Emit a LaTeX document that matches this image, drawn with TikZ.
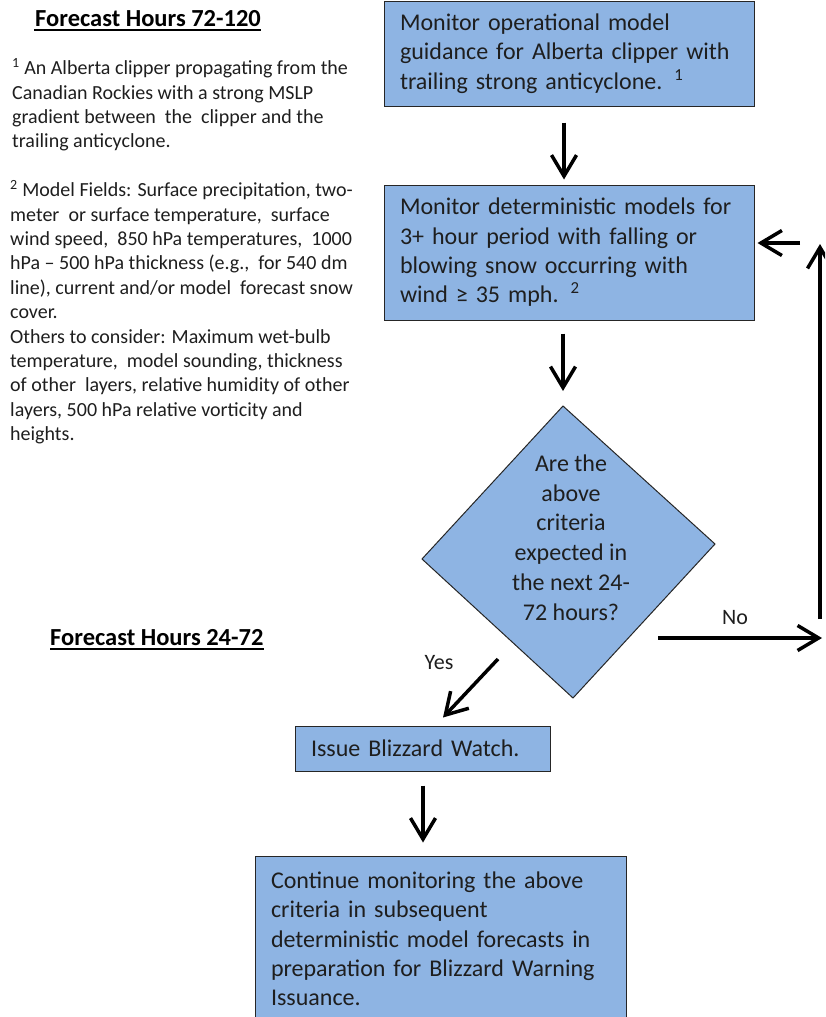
\documentclass[tikz,border=0pt]{standalone}
\usepackage{fontspec}
\setmainfont{Carlito}
\usetikzlibrary{arrows.meta,calc}
\definecolor{boxfill}{RGB}{142,180,227}
\definecolor{txt}{RGB}{30,30,30}
\begin{document}
\begin{tikzpicture}[x=1pt,y=-1pt,
  box/.style={draw=black!85,line width=1pt,fill=boxfill,text=txt,align=left,
    font=\fontsize{24}{29.3}\selectfont,inner ysep=0pt},
  arr/.style={line width=3.5pt,-{Straight Barb[length=21pt,width=25pt]}},
  lbl/.style={text=txt,font=\fontsize{22}{26}\selectfont,inner sep=0pt},
  note/.style={text=txt,align=left,font=\fontsize{20}{24.4}\selectfont,inner sep=0pt,anchor=base west},
  ttl/.style={text=black,font=\bfseries\fontsize{24.5}{29}\selectfont,inner sep=0pt,anchor=base west}]
\useasboundingbox (0,0) rectangle (825,1017);
\clip (0,0) rectangle (825,1017);

% titles
\node[ttl] (t1) at (35,26) {Forecast Hours 72-120};
\draw[line width=1.5pt] ($(t1.base west)+(-1,4)$) -- ($(t1.base east)+(0,4)$);
\node[ttl] (t2) at (50,645) {Forecast Hours 24-72};
\draw[line width=1.5pt] ($(t2.base west)+(0,4)$) -- ($(t2.base east)+(0,4)$);

% notes (base anchor = baseline of last line)
\node[note] (n1) at (12,147.9) {\textsuperscript{1} An Alberta clipper propagating from the\\
Canadian Rockies with a strong MSLP\\
gradient between\ \ the\ \ clipper and the\\
trailing anticyclone.};
\node[note] (n2) at (10,440.7) {\textsuperscript{2} Model Fields: Surface precipitation, two-\\
meter\ \ or surface temperature,\ \ surface\\
wind speed,\ \ 850 hPa temperatures,\ \ 1000\\
hPa – 500 hPa thickness (e.g.,\ \ for 540 dm\\
line), current and/or model\ \ forecast snow\\
cover.\\
Others to consider: Maximum wet-bulb\\
temperature,\ \ model sounding, thickness\\
of other\ \ layers, relative humidity of other\\
layers, 500 hPa relative vorticity and\\
heights.};

% boxes
\node[box,minimum width=370,minimum height=105,text width=338,inner xsep=16] (b1) at (569,53.5)
 {Monitor\ operational model\\guidance for Alberta\ clipper with\\trailing strong anticyclone. \textsuperscript{1}};
\node[box,minimum width=370,minimum height=135,text width=338,inner xsep=16] (b2) at (569,252.5)
 {Monitor\ deterministic models for\\3+ hour period with falling or\\blowing snow occurring\ with\\wind ≥ 35 mph. \textsuperscript{2}};
\node[box,minimum width=255,minimum height=45,text width=223,inner xsep=16] (b3) at (422.5,748.5)
 {Issue Blizzard Watch.};
\node[box,minimum width=371,minimum height=166,text width=339,inner xsep=16] (b4) at (440.5,939)
 {Continue monitoring the above\\criteria in subsequent\\deterministic model forecasts in\\preparation\ for Blizzard Warning\\Issuance.};

% decision diamond
\coordinate (dT) at (563,406);
\coordinate (dR) at (715,544);
\coordinate (dB) at (573,698);
\coordinate (dL) at (422,559);
\filldraw[fill=boxfill,draw=black!85,line width=1pt] (dT) -- (dR) -- (dB) -- (dL) -- cycle;
\node[text=txt,align=center,font=\fontsize{24}{29.8}\selectfont,inner sep=0pt] (q) at (571,537.5)
 {Are the\\above\\criteria\\expected in\\the next 24-\\72 hours?};

% connectors
\draw[arr] ($(b1.south)+(-5,16)$) -- ($(b2.north)+(-5,-5)$);
\draw[arr] ($(b2.south)+(-6,13)$) -- ($(dT)+(0,-15)$);
\draw[arr] ($(b3.south)+(0.5,14)$) -- ($(b3.south |- b4.north)+(0.5,-13)$);

\coordinate (yesS) at (498,659);
\draw[arr] (yesS) -- ($(b3.north)+(20.5,-8)$);
\node[lbl,anchor=center] (yes) at (439,663) {Yes};

\coordinate (noS) at (658,638);
\coordinate (noE) at (822,638);
\draw[arr] (noS) -- (noE);
\node[lbl,anchor=center] (no) at (735,618) {No};

\coordinate (upS) at (820,619);
\coordinate (upE) at (820,244);
\draw[arr] (upS) -- (upE);

\coordinate (lS) at (800,243);
\draw[arr] (lS) -- ($(b2.east)+(3,-9.5)$);
\end{tikzpicture}
\end{document}
